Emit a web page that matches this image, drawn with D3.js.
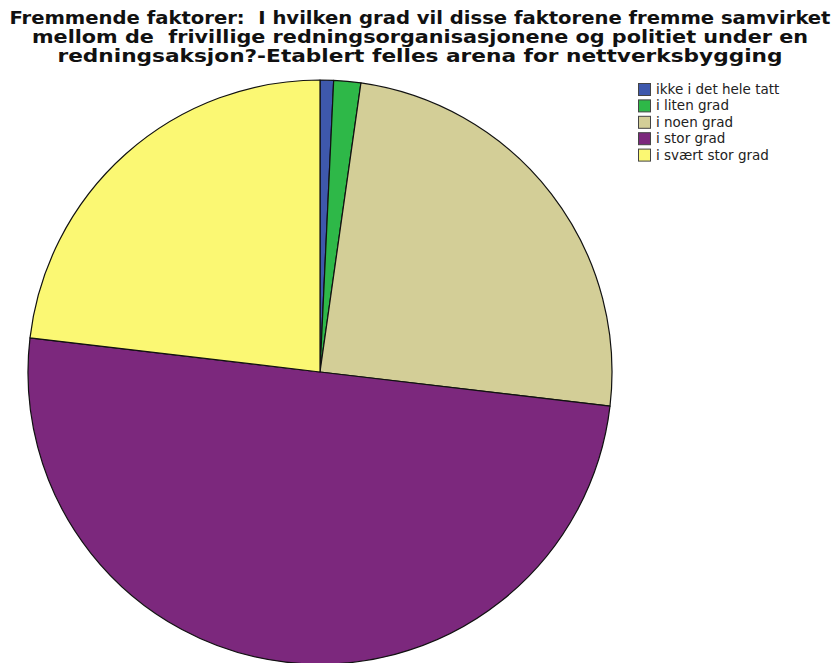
<!DOCTYPE html>
<html><head><meta charset="utf-8">
<script src="https://cdn.jsdelivr.net/npm/d3@7"></script>
<style>body{margin:0;background:#fff}svg{display:block}</style>
</head><body>
<svg id="chart" width="839" height="663"></svg>
<script>
const categories = ["ikke i det hele tatt","i liten grad","i noen grad","i stor grad","i svært stor grad"];
const values = [1, 2, 33, 67, 31];
const colors = ["#3e58ac","#2eb848","#d3ce97","#7c287d","#fbf873"];
const titleLines = [
  "Fremmende faktorer:  I hvilken grad vil disse faktorene fremme samvirket",
  "mellom de  frivillige redningsorganisasjonene og politiet under en",
  "redningsaksjon?-Etablert felles arena for nettverksbygging"
];

const svg = d3.select("#chart");
const cx = 320, cy = 372, r = 292;
const pie = d3.pie().sort(null).value(d => d)(values);
const arc = d3.arc().innerRadius(0).outerRadius(r);
const color = d3.scaleOrdinal().domain(categories).range(colors);

svg.append("g").attr("transform", `translate(${cx},${cy})`)
  .selectAll("path").data(pie).join("path")
  .attr("d", arc)
  .attr("fill", (d,i) => color(categories[i]))
  .attr("stroke", "#111").attr("stroke-width", 1.2).attr("stroke-linejoin","round");

const title = svg.append("g");
const ys = [24, 43, 62];
const widths = [821, 776, 725];
titleLines.forEach((t,i) => {
  const tx = title.append("text")
    .attr("x", 420).attr("y", ys[i])
    .attr("text-anchor","middle")
    .attr("font-family","'DejaVu Sans Condensed','DejaVu Sans',sans-serif")
    .attr("font-stretch","condensed")
    .attr("font-weight","bold").attr("font-size", 17).attr("fill","#111")
    .style("white-space","pre")
    .text(t);
  tx.attr("textLength", widths[i]).attr("lengthAdjust","spacingAndGlyphs");
});

const lg = svg.append("g").attr("transform","translate(638,83)");
categories.forEach((c,i) => {
  const g = lg.append("g").attr("transform", `translate(0,${i*16.4})`);
  g.append("rect").attr("x",0.5).attr("y",0.5).attr("width",12).attr("height",12)
    .attr("fill", color(c)).attr("stroke","#444").attr("stroke-width",1);
  g.append("text").attr("x",18).attr("y",11)
    .attr("font-family","'DejaVu Sans',sans-serif").attr("font-size",13.5).attr("fill","#222")
    .text(c);
});
</script>
</body></html>
